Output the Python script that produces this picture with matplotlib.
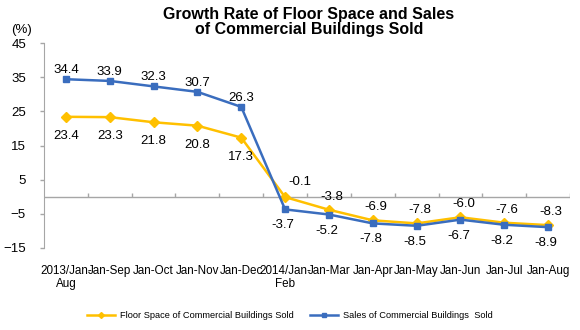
import matplotlib.pyplot as plt
import numpy as np

plt.rcParams['font.family'] = ['Liberation Sans', 'DejaVu Sans']

# categories (x axis)
periods = ['2013/Jan-\nAug', 'Jan-Sep', 'Jan-Oct', 'Jan-Nov', 'Jan-Dec', '2014/Jan-\nFeb',
           'Jan-Mar', 'Jan-Apr', 'Jan-May', 'Jan-Jun', 'Jan-Jul', 'Jan-Aug']
# growth rates (%)
floor_space = [23.4, 23.3, 21.8, 20.8, 17.3, -0.1, -3.8, -6.9, -7.8, -6.0, -7.6, -8.3]
sales = [34.4, 33.9, 32.3, 30.7, 26.3, -3.7, -5.2, -7.8, -8.5, -6.7, -8.2, -8.9]
y_ticks = [-15, -5, 5, 15, 25, 35, 45]

yellow = '#FFC000'
blue = '#3A6DBE'
grey = '#A6A6A6'

fig = plt.figure(figsize=(5.8, 3.3), dpi=100)
ax = fig.add_axes([44 / 580, 1 - 248 / 330, 526 / 580, 205 / 330])

x = np.arange(len(periods))
ax.plot(x, floor_space, color=yellow, lw=1.8, marker='D', ms=5, zorder=3,
        label='Floor Space of Commercial Buildings Sold')
ax.plot(x, sales, color=blue, lw=1.8, marker='s', ms=5, zorder=4,
        label='Sales of Commercial Buildings  Sold')

# zero line with small upward ticks between categories
ax.axhline(0, color=grey, lw=1, zorder=1)
ax.vlines(np.arange(0.5, len(periods)), 0, 1.2, color=grey, lw=1, zorder=1)

# data labels (offsets in pixels)
for i, (f, s) in enumerate(zip(floor_space, sales)):
    if i < 5:
        f_off, s_off = (0, -19), (0, 9)
    else:
        f_off, s_off = (3, 13), (-2, -16)
    if i == 5:
        f_off = (15, 15)
    ax.annotate(f'{f:.1f}', (i, f), xytext=f_off, textcoords='offset pixels',
                ha='center', va='center', fontsize=9.5)
    ax.annotate(f'{s:.1f}', (i, s), xytext=s_off, textcoords='offset pixels',
                ha='center', va='center', fontsize=9.5)

ax.set_xlim(-0.5, len(periods) - 0.5)
ax.set_ylim(-15, 45)
ax.set_yticks(y_ticks)
ax.set_xticks(x)
ax.set_xticklabels(periods)
ax.tick_params(axis='x', length=0, pad=12, labelsize=8.4)
ax.tick_params(axis='y', length=3, color=grey, width=1, labelsize=9.5, pad=10)
for side in ['top', 'right', 'bottom']:
    ax.spines[side].set_visible(False)
ax.spines['left'].set_color(grey)

fig.text(309 / 580, 1 - 22 / 330, 'Growth Rate of Floor Space and Sales\nof Commercial Buildings Sold',
         ha='center', va='center', fontsize=11.5, fontweight='bold', linespacing=1.05)
fig.text(21 / 580, 1 - 30 / 330, '(%)', ha='center', va='center', fontsize=9.5)

fig.legend(loc='center', bbox_to_anchor=(290 / 580, 1 - 316 / 330), ncol=2, frameon=False,
           fontsize=6.7, handlelength=3.0, handletextpad=0.5, columnspacing=1.8, markerscale=0.6)

fig.savefig('out.png', dpi=100)
